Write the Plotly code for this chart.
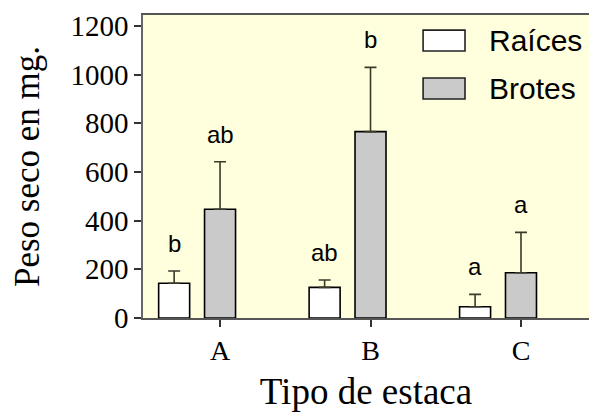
import plotly.graph_objects as go

categories = ["A", "B", "C"]
series_names = ["Raíces", "Brotes"]
raices = [143, 126, 46]
raices_err = [50, 30, 51]
brotes = [447, 766, 186]
brotes_err = [195, 264, 166]
raices_letters = ["b", "ab", "a"]
brotes_letters = ["ab", "b", "a"]
y_ticks = [0, 200, 400, 600, 800, 1000, 1200]

fill_colors = ["white", "#CACACA"]

pos = list(range(len(categories)))
offset = 0.305
raices_x = [p - offset for p in pos]

fig = go.Figure()
for name, xs, vals, errs, col in [(series_names[0], raices_x, raices, raices_err, fill_colors[0]),
                                  (series_names[1], pos, brotes, brotes_err, fill_colors[1])]:
    fig.add_trace(go.Bar(
        x=xs, y=vals, name=name, width=0.206, showlegend=False,
        marker=dict(color=col, line=dict(color="black", width=1.6)),
        error_y=dict(type="data", array=errs, arrayminus=[0] * len(errs), symmetric=False,
                     color="#3a3a2a", thickness=1.6, width=6),
    ))

annotations = []
for xs, vals, errs, letters in [(raices_x, raices, raices_err, raices_letters),
                                (pos, brotes, brotes_err, brotes_letters)]:
    for x, v, e, l in zip(xs, vals, errs, letters):
        annotations.append(dict(x=x, y=v + e, text=l, showarrow=False, yanchor="bottom",
                                yshift=12, font=dict(family="Liberation Sans", size=24, color="black")))

# legend drawn as boxes + text (layout decoration)
shapes = []
legend_rows = [(0.950, 0.881), (0.792, 0.723)]
for (y1, y0), name, col in zip(legend_rows, series_names, fill_colors):
    shapes.append(dict(type="rect", xref="paper", yref="paper", x0=0.628, x1=0.722, y0=y0, y1=y1,
                       fillcolor=col, line=dict(color="#222222", width=1.6)))
    annotations.append(dict(xref="paper", yref="paper", x=0.772, y=(y0 + y1) / 2, text=name,
                            showarrow=False, xanchor="left", yanchor="middle",
                            font=dict(family="Liberation Sans", size=30, color="black")))

fig.update_layout(
    width=589, height=412,
    margin=dict(l=143, r=0, t=15, b=94),
    paper_bgcolor="white", plot_bgcolor="#FFFFDE",
    barmode="overlay",
    showlegend=False,
    hovermode=False,
    annotations=annotations,
    shapes=shapes,
    xaxis=dict(range=[-0.512, 2.452], tickvals=pos, ticktext=categories,
               showgrid=False, zeroline=False, showline=True, linecolor="#555555", linewidth=1.6,
               mirror=True, ticks="outside", ticklen=7, tickcolor="#333333", tickwidth=1.5,
               tickfont=dict(family="Liberation Serif", size=28, color="black"),
               title=dict(text="Tipo de estaca", standoff=17,
                          font=dict(family="Liberation Serif", size=37, color="black"))),
    yaxis=dict(range=[0, 1245], tickvals=y_ticks,
               showgrid=False, zeroline=False, showline=True, linecolor="#666666", linewidth=1.6,
               ticks="outside", ticklen=7, tickcolor="#333333", tickwidth=1.5,
               tickfont=dict(family="Liberation Serif", size=29, color="black"),
               title=dict(text="Peso seco en mg.", standoff=20,
                          font=dict(family="Liberation Serif", size=35, color="black"))),
)

fig.write_html("out.html", config={"displayModeBar": False},
               post_script="document.body.style.margin='0';")
